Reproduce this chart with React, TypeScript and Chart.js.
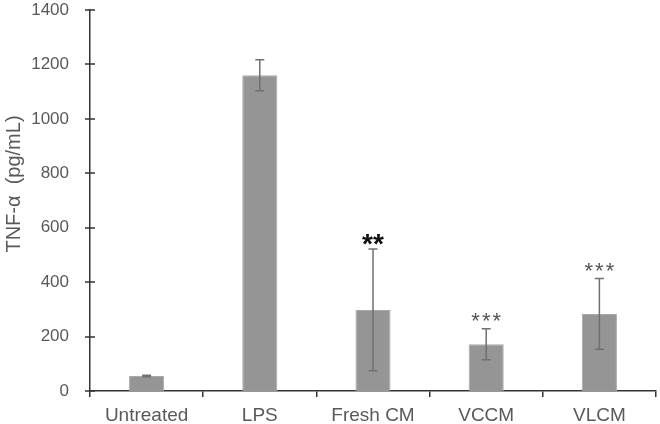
import React, { useEffect, useRef } from "react";
import { Chart, registerables } from "chart.js";

Chart.register(...registerables);

const categories = ["Untreated", "LPS", "Fresh CM", "VCCM", "VLCM"];
const means = [55, 1160, 298, 172, 283];
const errors = [3, 57, 224, 57, 130];
const stars = ["", "", "**", "***", "***"];
const yMin = 0;
const yMax = 1400;
const yStep = 200;
const yTitle = "TNF-α  (pg/mL)";

const FONT = "'Liberation Sans', Arial, sans-serif";
const TEXT = "#595959";
const AXIS = "#333333";

const overlay = {
  id: "overlay",
  afterDraw(chart: any) {
    const ctx = chart.ctx;
    const xs = chart.scales.x;
    const ys = chart.scales.y;
    ctx.save();
    // y tick marks crossing the axis
    ctx.strokeStyle = AXIS;
    ctx.lineWidth = 1.5;
    const ax = ys.right;
    ys.ticks.forEach((t: any) => {
      const y = Math.round(ys.getPixelForValue(t.value));
      ctx.beginPath();
      ctx.moveTo(ax - 5, y);
      ctx.lineTo(ax + 5, y);
      ctx.stroke();
    });
    // error bars
    ctx.strokeStyle = "#707070";
    ctx.lineWidth = 1.5;
    means.forEach((m, i) => {
      const x = xs.getPixelForValue(i);
      const yT = ys.getPixelForValue(m + errors[i]);
      const yB = ys.getPixelForValue(m - errors[i]);
      ctx.beginPath();
      ctx.moveTo(x, yT);
      ctx.lineTo(x, yB);
      ctx.moveTo(x - 4.5, yT);
      ctx.lineTo(x + 4.5, yT);
      ctx.moveTo(x - 4.5, yB);
      ctx.lineTo(x + 4.5, yB);
      ctx.stroke();
    });
    // significance stars (ink centred a fixed gap above the error cap)
    ctx.textAlign = "center";
    ctx.textBaseline = "alphabetic";
    stars.forEach((s, i) => {
      if (!s) return;
      const x = xs.getPixelForValue(i);
      const yT = ys.getPixelForValue(means[i] + errors[i]);
      let gap;
      let shift = 0;
      if (s === "**") {
        ctx.font = `bold 28px ${FONT}`;
        ctx.fillStyle = "#111111";
        (ctx as any).letterSpacing = "0px";
        gap = 9;
      } else {
        ctx.font = `22px ${FONT}`;
        ctx.fillStyle = "#555555";
        (ctx as any).letterSpacing = "2px";
        gap = 11.5;
        shift = 1;
      }
      const m = ctx.measureText(s);
      const centre = yT - gap;
      const base = centre + (m.actualBoundingBoxAscent - m.actualBoundingBoxDescent) / 2;
      ctx.fillText(s, x + shift, base);
      (ctx as any).letterSpacing = "0px";
    });
    // y title
    ctx.translate(14, 184);
    ctx.rotate(-Math.PI / 2);
    ctx.font = `20px ${FONT}`;
    ctx.fillStyle = TEXT;
    ctx.textAlign = "center";
    ctx.textBaseline = "middle";
    ctx.fillText(yTitle, 0, 0);
    ctx.restore();
  },
};

export default function App() {
  const ref = useRef<HTMLCanvasElement | null>(null);
  useEffect(() => {
    if (!ref.current) return;
    const chart = new Chart(ref.current, {
      type: "bar",
      data: {
        labels: categories,
        datasets: [
          {
            data: means,
            backgroundColor: "#959595",
            borderColor: "#a9a9a9",
            borderWidth: 1,
            barPercentage: 0.31,
            categoryPercentage: 1,
          },
        ],
      },
      options: {
        responsive: false,
        devicePixelRatio: 1,
        animation: false,
        layout: { padding: { top: 10, right: 4, left: 0, bottom: 0 } },
        plugins: { legend: { display: false }, tooltip: { enabled: false } },
        scales: {
          x: {
            offset: true,
            grid: {
              display: true,
              drawOnChartArea: false,
              offset: true,
              tickLength: 6,
              color: AXIS,
              lineWidth: 1.5,
            },
            border: { display: true, color: AXIS, width: 1.5 },
            ticks: { color: TEXT, font: { family: FONT, size: 19 }, padding: 7, maxRotation: 0 },
            afterFit: (s: any) => {
              s.height = 33;
              s.paddingLeft = 0;
              s.paddingRight = 0;
            },
          },
          y: {
            min: yMin,
            max: yMax,
            grid: { display: false, drawTicks: false },
            border: { display: true, color: AXIS, width: 1.5 },
            ticks: {
              stepSize: yStep,
              color: TEXT,
              font: { family: FONT, size: 17 },
              padding: 21,
              callback: (v: any) => String(v),
            },
            afterFit: (s: any) => {
              s.width = 90;
              s.paddingTop = 0;
              s.paddingBottom = 0;
            },
          },
        },
      },
      plugins: [overlay],
    });
    return () => chart.destroy();
  }, []);
  return (
    <div style={{ position: "absolute", left: 0, top: 0, width: 660, height: 424, background: "#fff" }}>
      <canvas ref={ref} width={660} height={424} />
    </div>
  );
}
